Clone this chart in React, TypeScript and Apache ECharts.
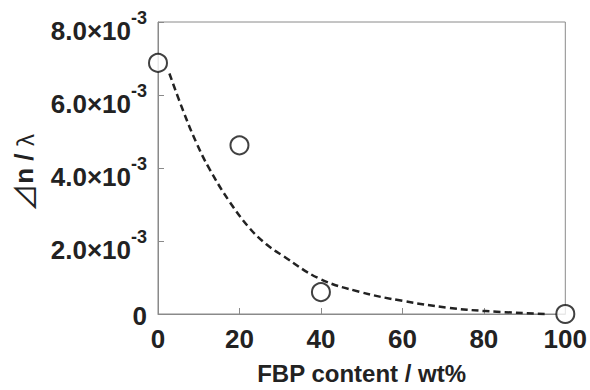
import React, { useEffect, useRef } from "react";
import * as echarts from "echarts";

const fbpContent = [0, 20, 40, 100];
const dnOverLambda = [6.88e-3, 4.62e-3, 0.6e-3, 0.0];

const fitX = [2.8, 6.2, 9.5, 12.7, 17.6, 22.5, 26.6, 30.6, 39.6, 49.4, 60, 71.4, 80.4, 95];
const fitY = [6.59e-3, 5.56e-3, 4.67e-3, 3.96e-3, 3.07e-3, 2.35e-3, 1.91e-3, 1.6e-3, 0.97e-3, 0.61e-3, 0.36e-3, 0.17e-3, 0.08e-3, 0.0];

const xTicks = [0, 20, 40, 60, 80, 100];
const yTicks = [0, 2e-3, 4e-3, 6e-3, 8e-3];

const xName = "FBP content / wt%";

export default function App() {
  const ref = useRef<HTMLDivElement>(null);
  useEffect(() => {
    if (!ref.current) return;
    const chart = echarts.init(ref.current, undefined, { renderer: "svg" });
    const axisGray = "#8a8a8a";
    const txt = "#222";
    const sans = "Liberation Sans, Arial, sans-serif";
    chart.setOption({
      animation: false,
      backgroundColor: "#fff",
      grid: {
        left: 158,
        right: 23,
        top: 19,
        bottom: 72,
        show: true,
        borderColor: axisGray,
        borderWidth: 1,
        backgroundColor: "transparent",
      },
      xAxis: {
        type: "value",
        min: xTicks[0],
        max: xTicks[xTicks.length - 1],
        interval: xTicks[1] - xTicks[0],
        splitLine: { show: false },
        axisLine: { show: true, lineStyle: { color: axisGray, width: 1 } },
        axisTick: { show: true, inside: true, length: 6, lineStyle: { color: axisGray } },
        axisLabel: {
          color: txt,
          fontFamily: sans,
          fontWeight: "bold",
          fontSize: 26,
          margin: 12,
        },
        name: xName,
        nameLocation: "middle",
        nameGap: 47,
        nameTextStyle: {
          color: txt,
          fontFamily: sans,
          fontWeight: "bold",
          fontSize: 24,
        },
      },
      yAxis: {
        type: "value",
        min: yTicks[0],
        max: yTicks[yTicks.length - 1],
        interval: yTicks[1] - yTicks[0],
        splitLine: { show: false },
        axisLine: { show: true, lineStyle: { color: axisGray, width: 1 } },
        axisTick: { show: true, inside: true, length: 6, lineStyle: { color: axisGray } },
        axisLabel: {
          color: txt,
          margin: 11,
          formatter: (v: number) =>
            v === 0 ? "{z|0}" : `{a|${(v * 1000).toFixed(1)}×10}{b|-3}`,
          rich: {
            z: {
              fontFamily: sans,
              fontWeight: "bold",
              fontSize: 26,
              color: txt,
              padding: [4, 0, 0, 0],
            },
            a: {
              fontFamily: sans,
              fontWeight: "bold",
              fontSize: 26,
              lineHeight: 26,
              color: txt,
              padding: [18, 0, 0, 0],
            },
            b: {
              fontFamily: sans,
              fontWeight: "bold",
              fontSize: 18,
              lineHeight: 18,
              color: txt,
              verticalAlign: "top",
            },
          },
        },
        name: "{t|⊿}{n|n / }{l|λ}",
        nameLocation: "middle",
        nameRotate: 90,
        nameGap: 120,
        nameTextStyle: {
          color: txt,
          padding: [0, 10, 0, 0],
          rich: {
            t: { fontFamily: "Noto Sans CJK JP", fontSize: 28, color: txt },
            n: { fontFamily: sans, fontWeight: "bold", fontSize: 26, color: txt },
            l: { fontFamily: "Noto Sans CJK JP", fontSize: 22, color: txt },
          },
        },
      },
      series: [
        {
          type: "line",
          data: fitX.map((x, i) => [x, fitY[i]]),
          smooth: 0.4,
          showSymbol: false,
          symbol: "none",
          clip: false,
          lineStyle: { color: "#222", width: 2.5, type: [7, 4] },
          z: 2,
        },
        {
          type: "scatter",
          data: fbpContent.map((x, i) => [x, dnOverLambda[i]]),
          symbol: "circle",
          symbolSize: 18,
          clip: false,
          itemStyle: { color: "#fff", borderColor: "#111", borderWidth: 2 },
          z: 3,
        },
      ],
    });
    return () => chart.dispose();
  }, []);
  return (
    <div
      ref={ref}
      style={{ position: "fixed", left: 0, top: 0, width: 590, height: 390, background: "#fff" }}
    />
  );
}
